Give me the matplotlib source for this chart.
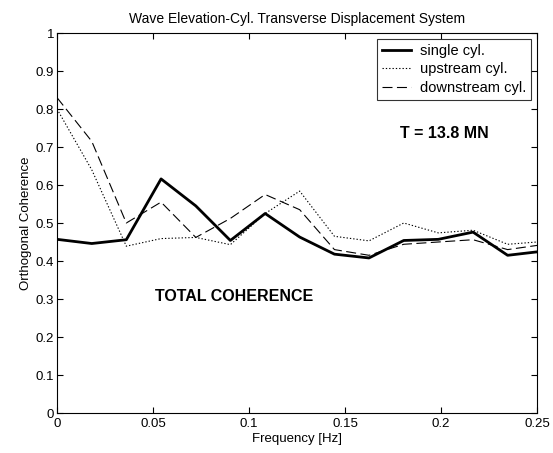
import matplotlib
matplotlib.use("Agg")
import matplotlib.pyplot as plt

plt.rcParams['font.family'] = ['Liberation Sans', 'DejaVu Sans']

freq = [0, 0.0181, 0.0361, 0.0542, 0.0723, 0.0903, 0.1084, 0.1264, 0.1445,
        0.1625, 0.1806, 0.1986, 0.2167, 0.2347, 0.25]
single = [0.457, 0.446, 0.456, 0.616, 0.545, 0.454, 0.525, 0.463, 0.418,
          0.408, 0.454, 0.457, 0.476, 0.415, 0.424]
upstream = [0.80, 0.64, 0.439, 0.459, 0.462, 0.443, 0.525, 0.584, 0.465,
            0.453, 0.50, 0.474, 0.481, 0.444, 0.45]
downstream = [0.83, 0.715, 0.50, 0.555, 0.462, 0.512, 0.575, 0.535, 0.43,
              0.415, 0.444, 0.45, 0.456, 0.43, 0.441]

xticks = [0, 0.05, 0.1, 0.15, 0.2, 0.25]
xticklabels = ['0', '0.05', '0.1', '0.15', '0.2', '0.25']
yticks = [0, 0.1, 0.2, 0.3, 0.4, 0.5, 0.6, 0.7, 0.8, 0.9, 1]
yticklabels = ['0', '0.1', '0.2', '0.3', '0.4', '0.5', '0.6', '0.7', '0.8', '0.9', '1']

fig = plt.figure(figsize=(5.53, 4.53), dpi=100)
ax = fig.add_axes([57/553, 40/453, 480/553, 380/453])

ax.plot(freq, single, color='black', lw=2.0, label='single cyl.')
ax.plot(freq, upstream, color='black', lw=0.8, linestyle=(0, (1.2, 1.8)), label='upstream cyl.')
ax.plot(freq, downstream, color='black', lw=0.8, linestyle=(0, (9, 4)), label='downstream cyl.')

ax.set_xlim(0, 0.25)
ax.set_ylim(0, 1)
ax.set_xticks(xticks)
ax.set_xticklabels(xticklabels)
ax.set_yticks(yticks)
ax.set_yticklabels(yticklabels)
ax.tick_params(direction='in', top=True, right=True, labelsize=9.5, length=4, width=0.8, pad=2)
ax.tick_params(axis='x', pad=3.5)
for s in ax.spines.values():
    s.set_linewidth(0.8)

ax.set_title('Wave Elevation-Cyl. Transverse Displacement System', fontsize=10, pad=7)
ax.set_xlabel('Frequency [Hz]', fontsize=9.5, labelpad=2)
ax.set_ylabel('Orthogonal Coherence', fontsize=9.5, labelpad=3)

leg = ax.legend(loc='upper right', fontsize=10.5, frameon=True, fancybox=False,
                borderaxespad=0.4, handlelength=2.0, labelspacing=0.3,
                borderpad=0.35, handletextpad=0.6)
leg.get_frame().set_edgecolor('black')
leg.get_frame().set_linewidth(0.8)

ax.text(0.202, 0.736, 'T = 13.8 MN', fontsize=11.5, fontweight='bold', ha='center', va='center')
ax.text(0.092, 0.307, 'TOTAL COHERENCE', fontsize=11.5, fontweight='bold', ha='center', va='center')

fig.savefig('out.png', dpi=100)
